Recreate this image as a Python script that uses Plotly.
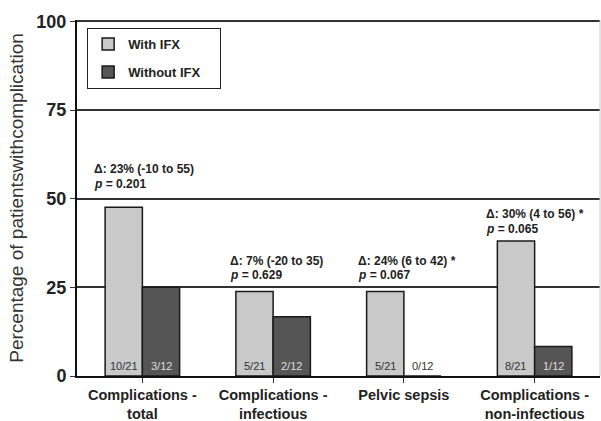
import plotly.graph_objects as go

categories = ["Complications -<br>total", "Complications -<br>infectious",
              "Pelvic sepsis", "Complications -<br>non-infectious"]
series_names = ["With IFX", "Without IFX"]
with_ifx = [47.6, 23.8, 23.8, 38.1]
without_ifx = [25.0, 16.7, 0.0, 8.3]
with_counts = ["10/21", "5/21", "5/21", "8/21"]
without_counts = ["3/12", "2/12", "0/12", "1/12"]
delta_labels = ["Δ: 23% (-10 to 55)", "Δ: 7% (-20 to 35)",
                "Δ: 24% (6 to 42) *", "Δ: 30% (4 to 56) *"]
p_labels = ["0.201", "0.629", "0.067", "0.065"]
delta_y = [58.3, 32.4, 32.4, 45.6]
p_y = [54.2, 28.4, 28.4, 41.4]
delta_x_off = [-0.385, -0.347, -0.363, -0.385]
yticks = [0, 25, 50, 75, 100]

FONT = "Liberation Sans, Arial, Helvetica, sans-serif"
idx = list(range(len(categories)))
PAD = "\u00a0" * 4

fig = go.Figure()
fig.add_trace(go.Bar(x=idx, y=with_ifx, name=series_names[0] + PAD, legendgroup="a",
                     marker=dict(color="#c9c9c9", line=dict(color="#1a1a1a", width=1.5))))
fig.add_trace(go.Bar(x=idx, y=without_ifx, name=series_names[1] + PAD, legendgroup="b",
                     marker=dict(color="#555555", line=dict(color="#1a1a1a", width=1.5))))

ann = []
bw = (1 - 0.43) / 2
for i in idx:
    ann.append(dict(x=i - bw / 2, y=2.8, xref="x", yref="y", text=with_counts[i],
                    showarrow=False, font=dict(family=FONT, size=11, color="#333333")))
    col = "#dddddd" if without_ifx[i] > 3 else "#333333"
    ann.append(dict(x=i + bw / 2, y=2.8, xref="x", yref="y", text=without_counts[i],
                    showarrow=False, font=dict(family=FONT, size=11, color=col)))
    ann.append(dict(x=i + delta_x_off[i], y=delta_y[i], xref="x", yref="y",
                    text="<b>" + delta_labels[i] + "</b>", showarrow=False,
                    xanchor="left", font=dict(family=FONT, size=12, color="#222222")))
    ann.append(dict(x=i + delta_x_off[i], y=p_y[i], xref="x", yref="y",
                    text="<b><i>p</i> = " + p_labels[i] + "</b>", showarrow=False,
                    xanchor="left", font=dict(family=FONT, size=12, color="#222222")))

fig.update_layout(
    width=601, height=421,
    margin=dict(l=77, r=1, t=20, b=45, autoexpand=False),
    paper_bgcolor="white", plot_bgcolor="white",
    barmode="group", bargap=0.43, bargroupgap=0,
    font=dict(family=FONT, color="#222222"),
    showlegend=True,
    legend=dict(x=0.019, y=0.978, xanchor="left", yanchor="top",
                bordercolor="#222222", borderwidth=1.2, bgcolor="white",
                font=dict(family=FONT, size=13, color="#222222", weight="bold"),
                tracegroupgap=8, traceorder="grouped"),
    annotations=ann,
    shapes=[dict(type="line", xref="paper", yref="paper", x0=1, x1=1, y0=0, y1=1,
                 line=dict(color="#c8c8c8", width=1))],
)
fig.update_xaxes(
    range=[-0.5, 3.5], tickvals=idx,
    ticktext=["<b>" + c.replace("<br>", "</b><br><b>") + "</b>" for c in categories],
    showline=True, linecolor="#111111", linewidth=2, automargin=False,
    ticks="outside", ticklen=5, tickcolor="#333333",
    tickfont=dict(family=FONT, size=14.5, color="#222222"),
    showgrid=False, zeroline=False,
)
fig.update_yaxes(
    range=[0, 100.4], tickvals=yticks, ticktext=["<b>%d</b>" % v for v in yticks],
    showline=True, linecolor="#111111", linewidth=2, automargin=False,
    ticks="outside", ticklen=5, tickcolor="#333333",
    tickfont=dict(family=FONT, size=18, color="#222222"),
    showgrid=True, gridcolor="#333333", gridwidth=1.5, zeroline=False,
    title=dict(text="Percentage of patientswithcomplication", standoff=8,
               font=dict(family=FONT, size=19, color="#333333")),
)
fig.write_html("out.html", config={"displayModeBar": False},
               post_script="document.body.style.margin='0';")
